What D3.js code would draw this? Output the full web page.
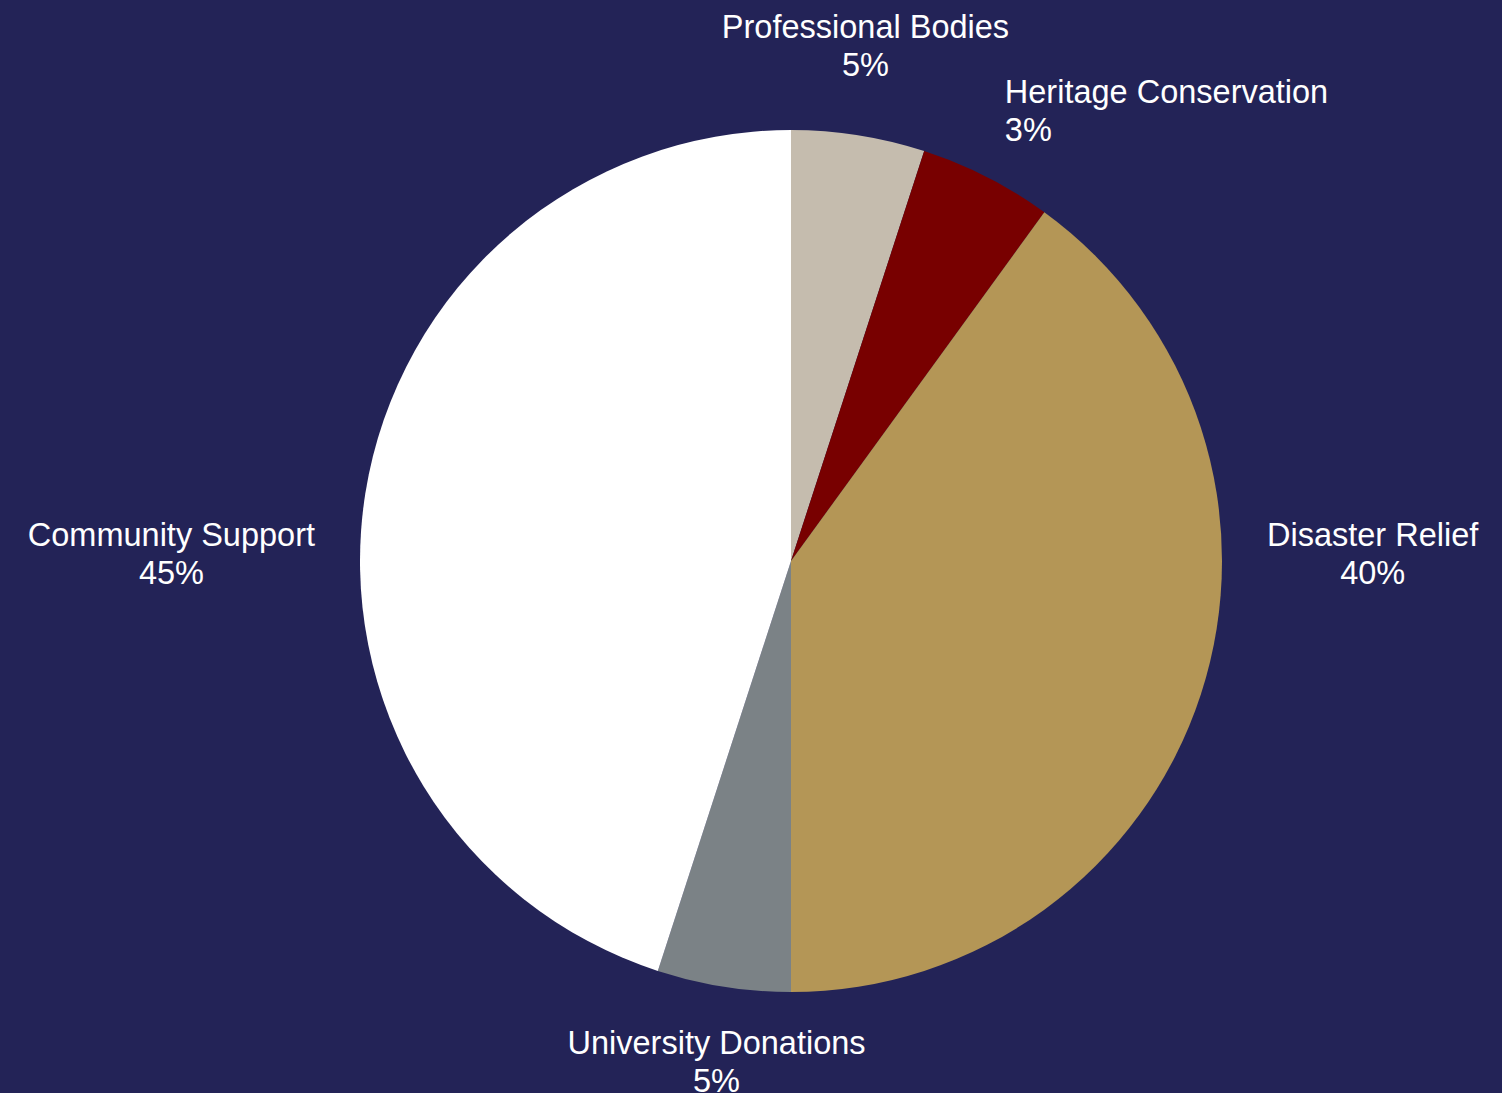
<!DOCTYPE html>
<html>
<head>
<meta charset="utf-8">
<script src="https://cdn.jsdelivr.net/npm/d3@7"></script>
<style>
  html, body { margin: 0; padding: 0; background: #232357; }
  svg { display: block; }
  .lbl { font-family: "Liberation Sans", Arial, Helvetica, sans-serif; fill: #ffffff; }
</style>
</head>
<body>
<div id="chart"></div>
<script>
// data
var categories = ["Professional Bodies", "Heritage Conservation", "Disaster Relief", "University Donations", "Community Support"];
var shares = [5, 5, 40, 5, 45];
var shareLabels = ["5%", "3%", "40%", "5%", "45%"];
var colors = ["#c5bcae", "#780000", "#b49656", "#7b8286", "#ffffff"];

var svgWidth = 1502;
var svgHeight = 1093;
var cx = 791, cy = 561, radius = 431;
var labelGap = 45;
var cornerGap = 40;
var fontSize = 32.5;
var lineHeight = 38;
var baseShift = -8;

var svg = d3.select("#chart")
  .append("svg")
  .attr("width", svgWidth)
  .attr("height", svgHeight);

svg.append("rect")
  .attr("width", svgWidth)
  .attr("height", svgHeight)
  .attr("fill", "#232357");

var pieGroup = svg.append("g")
  .attr("transform", "translate(" + cx + "," + cy + ")");

var rows = categories.map(function(c, i) {
  return { name: c, value: shares[i], pct: shareLabels[i], color: colors[i] };
});

var pie = d3.pie().sort(null).value(function(d) { return d.value; });
var arc = d3.arc().innerRadius(0).outerRadius(radius);

var arcs = pie(rows);

pieGroup.selectAll("path")
  .data(arcs)
  .enter()
  .append("path")
  .attr("d", arc)
  .attr("fill", function(d) { return d.data.color; });

// outside labels
arcs.forEach(function(d) {
  var mid = (d.startAngle + d.endAngle) / 2;
  var s = Math.sin(mid), c = Math.cos(mid);
  var r = radius + labelGap;
  var px = s * r, py = -c * r;

  var g = pieGroup.append("g");
  var t1 = g.append("text").attr("class", "lbl").attr("font-size", fontSize).text(d.data.name);
  var t2 = g.append("text").attr("class", "lbl").attr("font-size", fontSize).text(d.data.pct);
  var w = Math.max(t1.node().getComputedTextLength(), t2.node().getComputedTextLength());
  var h = lineHeight * 2;

  var xText, anchor = "middle", y1, y2;
  if (Math.abs(c) < 0.35) {
    // side labels sit on the horizontal midline, a fixed gap off the rim
    var left = s > 0 ? r : -r - w;
    xText = left + w / 2;
    y1 = -h / 2 + lineHeight * 0.5 + fontSize * 0.36 + baseShift;
    y2 = y1 + lineHeight;
  } else if (Math.abs(s) < 0.3) {
    // top / bottom labels centred on the slice direction
    var top = c > 0 ? py - h : py;
    xText = px;
    y1 = top + lineHeight * 0.5 + fontSize * 0.36 + baseShift;
    y2 = y1 + lineHeight;
  } else {
    // diagonal labels hang from the corner nearest the rim
    var rc = radius + cornerGap;
    var qx = s * rc, qy = -c * rc;
    anchor = s > 0 ? "start" : "end";
    xText = qx;
    if (c > 0) { y2 = qy; y1 = y2 - lineHeight; }
    else { y1 = qy + fontSize * 0.72; y2 = y1 + lineHeight; }
  }

  t1.attr("x", xText).attr("y", y1).attr("text-anchor", anchor);
  t2.attr("x", xText).attr("y", y2).attr("text-anchor", anchor);
});
</script>
</body>
</html>
